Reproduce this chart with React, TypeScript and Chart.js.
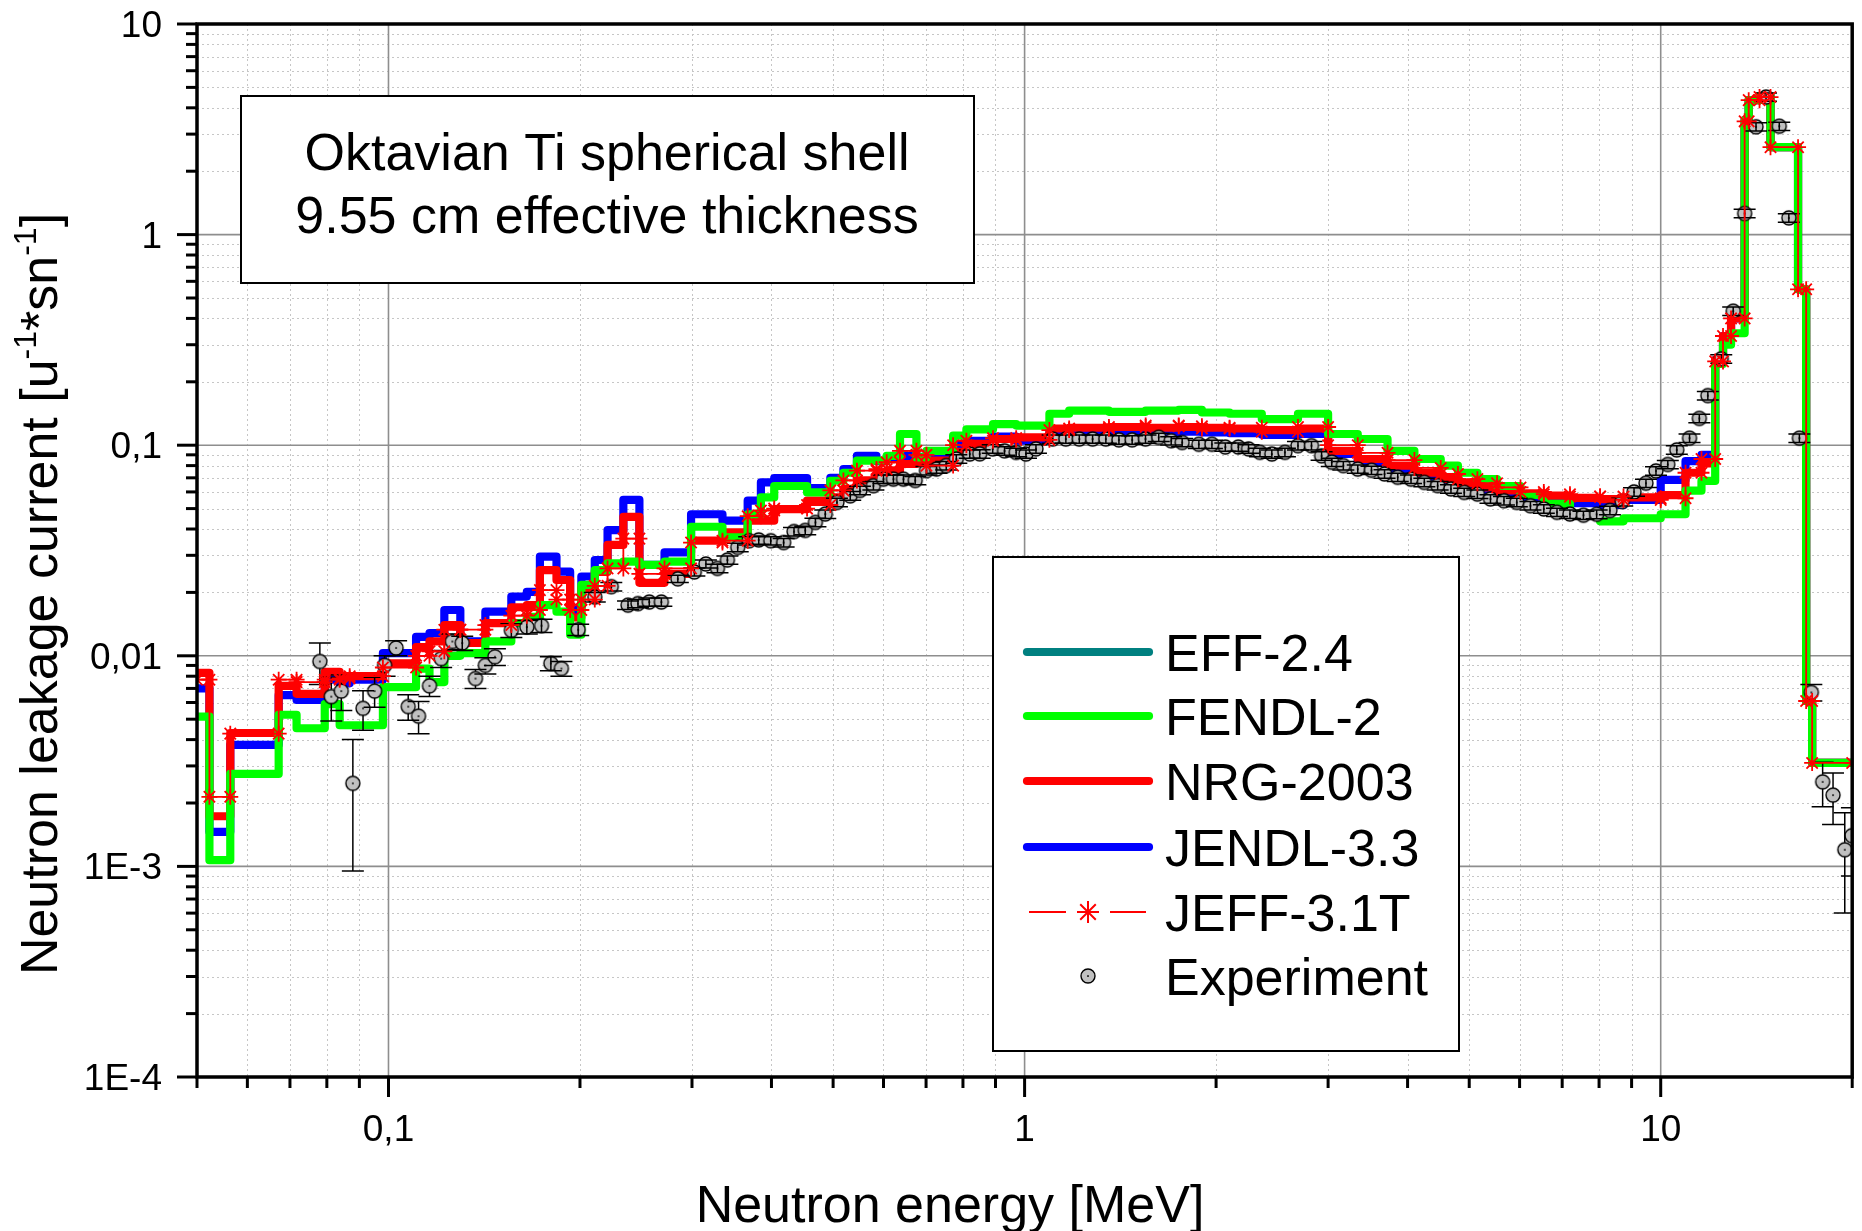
import React, { useEffect, useRef } from "react";
import { Chart, registerables } from "chart.js";

Chart.register(...registerables);

// ---------------- data ----------------
// group (bin) boundaries in MeV, 78 bins
const binEdgesMeV = [
  0.05, 0.0523, 0.0564, 0.0672, 0.0717, 0.0794, 0.0838, 0.0869, 0.098, 0.1105,
  0.116, 0.1224, 0.1297, 0.142, 0.156, 0.165, 0.173, 0.1837, 0.193, 0.201,
  0.211, 0.221, 0.234, 0.248, 0.2716, 0.299, 0.335, 0.367, 0.385, 0.404,
  0.455, 0.495, 0.519, 0.545, 0.585, 0.607, 0.637, 0.676, 0.701, 0.772,
  0.81, 0.892, 0.97, 1.094, 1.175, 1.357, 1.55, 1.747, 1.9, 2.1,
  2.36, 2.69, 3.0, 3.34, 3.72, 4.1, 4.51, 4.8, 5.15, 5.53,
  6.02, 6.55, 7.2, 8.03, 8.74, 10.0, 10.94, 11.59, 12.18, 12.53,
  12.9, 13.55, 13.75, 14.3, 14.88, 16.44, 16.93, 17.3, 20.0,
];

const eff24 = [
  0.0083, 0.00173, 0.0043, 0.0072, 0.0066, 0.0084, 0.008, 0.008, 0.0092, 0.011,
  0.0117, 0.014, 0.0115, 0.0143, 0.017, 0.0174, 0.0255, 0.0229, 0.0152, 0.021,
  0.025, 0.0336, 0.0457, 0.0222, 0.0245,
  0.0352, 0.0386, 0.0438, 0.0438, 0.0497, 0.0545, 0.0565, 0.062, 0.068, 0.072,
  0.0757, 0.0814, 0.083, 0.0844, 0.093, 0.101, 0.107, 0.109, 0.12, 0.121, 0.122,
  0.121, 0.122, 0.121, 0.12, 0.118, 0.12, 0.094, 0.086, 0.08, 0.074,
  0.069, 0.066, 0.063, 0.061, 0.059, 0.0576, 0.0562, 0.0555, 0.0565, 0.058,
  0.074, 0.082, 0.254, 0.33, 0.4, 3.5, 4.35, 4.55, 2.6, 0.55, 0.0061, 0.0031,
];

const fendl2 = [
  0.00514, 0.00107, 0.00275, 0.00525, 0.00453, 0.0059, 0.00468, 0.00468, 0.0071, 0.0087,
  0.0075, 0.01, 0.0103, 0.0117, 0.0143, 0.0153, 0.0174, 0.0162, 0.0126, 0.0217,
  0.0255, 0.0275, 0.028, 0.027, 0.028,
  0.041, 0.0365, 0.047, 0.0565, 0.064, 0.0597, 0.0678, 0.074, 0.0844, 0.0844,
  0.089, 0.113, 0.0875, 0.094, 0.111, 0.119, 0.126, 0.124, 0.141, 0.146, 0.144,
  0.146, 0.147, 0.143, 0.141, 0.133, 0.141, 0.113, 0.107, 0.094, 0.086,
  0.08, 0.074, 0.069, 0.064, 0.058, 0.0526, 0.047, 0.0435, 0.045, 0.047,
  0.0608, 0.0677, 0.243, 0.3, 0.34, 3.5, 4.35, 4.55, 2.6, 0.55, 0.0061, 0.0031,
];

const nrg2003 = [
  0.0083, 0.00173, 0.0043, 0.0072, 0.0066, 0.0084, 0.008, 0.008, 0.0092, 0.011,
  0.0117, 0.014, 0.0115, 0.0143, 0.017, 0.0174, 0.0255, 0.0229, 0.0152, 0.021,
  0.025, 0.0336, 0.0457, 0.0222, 0.0245,
  0.0352, 0.0386, 0.0438, 0.0438, 0.0497, 0.0545, 0.0565, 0.062, 0.068, 0.072,
  0.0757, 0.0814, 0.083, 0.0844, 0.093, 0.101, 0.107, 0.109, 0.12, 0.121, 0.122,
  0.121, 0.122, 0.121, 0.12, 0.118, 0.12, 0.094, 0.086, 0.08, 0.074,
  0.069, 0.066, 0.063, 0.061, 0.059, 0.0576, 0.0562, 0.0555, 0.0565, 0.058,
  0.074, 0.082, 0.254, 0.33, 0.4, 3.5, 4.35, 4.55, 2.6, 0.55, 0.0061, 0.0031,
];

const jendl33 = [
  0.007, 0.00146, 0.00378, 0.0065, 0.00617, 0.0077, 0.0074, 0.0077, 0.0103, 0.0123,
  0.0128, 0.0165, 0.0117, 0.0162, 0.0191, 0.0201, 0.0296, 0.0251, 0.0165, 0.0238,
  0.0285, 0.0395, 0.055, 0.027, 0.031,
  0.047, 0.0438, 0.0545, 0.0666, 0.0698, 0.0626, 0.07, 0.077, 0.089, 0.084,
  0.087, 0.089, 0.088, 0.087, 0.1, 0.105, 0.11, 0.105, 0.115, 0.115, 0.116,
  0.115, 0.116, 0.115, 0.114, 0.112, 0.113, 0.091, 0.083, 0.076, 0.071,
  0.067, 0.063, 0.06, 0.058, 0.056, 0.0545, 0.053, 0.052, 0.055, 0.0685,
  0.084, 0.09, 0.254, 0.33, 0.4, 3.5, 4.35, 4.55, 2.6, 0.55, 0.0061, 0.0031,
];

const jeff31t = [
  0.0077, 0.00214, 0.00427, 0.0077, 0.0075, 0.0077, 0.0078, 0.008, 0.0088, 0.01,
  0.0105, 0.0133, 0.0133, 0.014, 0.0155, 0.0165, 0.0205, 0.0185, 0.0165, 0.0185,
  0.0215, 0.026, 0.036, 0.0245, 0.026,
  0.0345, 0.0352, 0.046, 0.049, 0.05, 0.052, 0.061, 0.068, 0.0757, 0.077,
  0.083, 0.094, 0.09, 0.08, 0.1, 0.105, 0.108, 0.106, 0.118, 0.12, 0.122,
  0.124, 0.123, 0.12, 0.121, 0.116, 0.122, 0.1, 0.092, 0.085, 0.078,
  0.073, 0.069, 0.066, 0.063, 0.06, 0.0585, 0.057, 0.057, 0.055, 0.056,
  0.074, 0.086, 0.25, 0.33, 0.4, 3.45, 4.35, 4.5, 2.6, 0.55, 0.0061, 0.0031,
];

const expEnergy = [
  0.078, 0.0813, 0.0843, 0.0879, 0.0912, 0.0951, 0.0986, 0.1028, 0.1074, 0.1115,
  0.116, 0.121, 0.126, 0.1306, 0.137, 0.142, 0.147, 0.156, 0.165, 0.174,
  0.18, 0.187, 0.1987, 0.211, 0.224, 0.238, 0.2467, 0.257, 0.2685, 0.285,
  0.3026, 0.3155, 0.329, 0.341, 0.354, 0.369, 0.382, 0.399, 0.418, 0.434,
  0.452, 0.469, 0.486, 0.507, 0.532, 0.551, 0.5785, 0.6, 0.622, 0.645,
  0.673, 0.701, 0.727, 0.753, 0.781, 0.82, 0.85, 0.891, 0.93, 0.97,
  1.005, 1.042, 1.107, 1.161, 1.219, 1.279, 1.342, 1.407, 1.476, 1.549,
  1.625, 1.7, 1.769, 1.879, 1.97, 2.068, 2.168, 2.249, 2.344, 2.447,
  2.566, 2.69, 2.825, 2.93, 3.04, 3.17, 3.34, 3.51, 3.68, 3.86,
  4.05, 4.25, 4.46, 4.68, 4.91, 5.15, 5.4, 5.67, 5.94, 6.24,
  6.55, 6.87, 7.2, 7.56, 7.93, 8.32, 8.7, 9.08, 9.48, 9.83,
  10.26, 10.6, 11.1, 11.5, 11.86, 12.45, 13.0, 13.55, 14.12, 14.64,
  15.36, 15.9, 16.52, 17.25, 17.97, 18.66, 19.47, 19.98,
];

const expCurrent = [
  0.0094, 0.0064, 0.0068, 0.00248, 0.00563, 0.0068, 0.009, 0.0109, 0.00574, 0.00517,
  0.0072, 0.0097, 0.0117, 0.0115, 0.0078, 0.009, 0.0099, 0.0132, 0.0137, 0.0139,
  0.0092, 0.0087, 0.0133, 0.019, 0.0213, 0.0174, 0.0177, 0.018, 0.018, 0.0232,
  0.025, 0.0273, 0.026, 0.0285, 0.0327, 0.0352, 0.0355, 0.0352, 0.0345, 0.0389,
  0.0394, 0.043, 0.0471, 0.0535, 0.0575, 0.061, 0.0642, 0.069, 0.069, 0.069,
  0.068, 0.0757, 0.077, 0.08, 0.086, 0.0908, 0.091, 0.096, 0.094, 0.0924,
  0.0908, 0.096, 0.107, 0.107, 0.107, 0.107, 0.107, 0.106, 0.106, 0.107,
  0.109, 0.105, 0.103, 0.101, 0.101, 0.098, 0.098, 0.096, 0.0925, 0.0908,
  0.0925, 0.0995, 0.0995, 0.089, 0.083, 0.08, 0.077, 0.076, 0.073, 0.0704,
  0.069, 0.0666, 0.0643, 0.062, 0.0597, 0.0586, 0.0556, 0.0545, 0.0535, 0.0516,
  0.0498, 0.048, 0.0471, 0.0465, 0.047, 0.049, 0.054, 0.06, 0.066, 0.0755,
  0.081, 0.095, 0.108, 0.134, 0.172, 0.257, 0.433, 1.26, 3.25, 4.5,
  3.27, 1.2, 0.108, 0.0067, 0.00252, 0.00218, 0.0012, 0.0014,
];

const expUncertainty = [
  0.0021, 0.0015, 0.0013, 0.00153, 0.0012, 0.0011, 0.001, 0.0009, 0.0008, 0.0009,
  0.0008, 0.0009, 0.001, 0.0009, 0.0008, 0.0008, 0.0009, 0.001, 0.001, 0.001,
  0.0007, 0.0007, 0.0008, 0.001, 0.001, 0.0008, 0.0008, 0.0008, 0.0008, 0.0009,
  0.0011, 0.0012, 0.0012, 0.0013, 0.0015, 0.0016, 0.0016, 0.0016, 0.0016, 0.0018,
  0.0018, 0.002, 0.0022, 0.0025, 0.0027, 0.0028, 0.003, 0.0032, 0.0032, 0.0032,
  0.0031, 0.0035, 0.0035, 0.0037, 0.004, 0.0042, 0.0042, 0.0044, 0.0043, 0.0042,
  0.0042, 0.0044, 0.0049, 0.0049, 0.0049, 0.0049, 0.0049, 0.0049, 0.0049, 0.0049,
  0.005, 0.0048, 0.0047, 0.0046, 0.0046, 0.0045, 0.0045, 0.0044, 0.0043, 0.0042,
  0.0043, 0.0046, 0.0046, 0.0041, 0.0038, 0.0037, 0.0035, 0.0035, 0.0034, 0.0032,
  0.0032, 0.0031, 0.003, 0.0029, 0.0027, 0.0027, 0.0026, 0.0025, 0.0025, 0.0024,
  0.0023, 0.0022, 0.0022, 0.0021, 0.0022, 0.0023, 0.0025, 0.0028, 0.003, 0.0035,
  0.0037, 0.0044, 0.005, 0.0062, 0.0079, 0.0118, 0.02, 0.058, 0.15, 0.2,
  0.15, 0.055, 0.005, 0.0006, 0.0006, 0.0006, 0.0006, 0.0005,
];

const xTickValues = [0.1, 1, 10];
const xTickLabels = ["0,1", "1", "10"];
const yTickValues = [1e-4, 1e-3, 1e-2, 1e-1, 1, 10];
const yTickLabels = ["1E-4", "1E-3", "0,01", "0,1", "1", "10"];
const legendNames = ["EFF-2.4", "FENDL-2", "NRG-2003", "JENDL-3.3", "JEFF-3.1T", "Experiment"];
const titleLines = ["Oktavian Ti spherical shell", "9.55 cm effective thickness"];
const xAxisTitle = "Neutron energy [MeV]";

const X_MIN = 0.05;
const X_MAX = 20;
const Y_MIN = 1e-4;
const Y_MAX = 10;

// ---------------- style ----------------
const FONT = '"Liberation Sans", Arial, Helvetica, sans-serif';
const C_EFF = "#008080";
const C_FENDL = "#00ff00";
const C_NRG = "#ff0000";
const C_JENDL = "#0000ff";
const C_JEFF = "#ff0000";
const THICK = 8.2;
const MARKER_R = 7;

function stepPoints(edges: number[], values: number[]) {
  const pts = values.map((v, i) => ({ x: edges[i], y: v }));
  pts.push({ x: edges[values.length], y: values[values.length - 1] });
  return pts;
}

function cornerPoints(edges: number[], values: number[]) {
  const pts: { x: number; y: number }[] = [];
  values.forEach((v, i) => {
    pts.push({ x: edges[i], y: v });
    pts.push({ x: edges[i + 1], y: v });
  });
  return pts;
}

function minorValues(lo: number, hi: number) {
  const out: number[] = [];
  for (let e = Math.floor(Math.log10(lo)) - 1; e <= Math.ceil(Math.log10(hi)); e++) {
    for (let k = 2; k <= 9; k++) {
      const v = k * Math.pow(10, e);
      if (v >= lo * 0.999 && v <= hi * 1.001) out.push(v);
    }
  }
  return out;
}

function makeExpMarker() {
  const c = document.createElement("canvas");
  c.width = 18;
  c.height = 18;
  const g = c.getContext("2d")!;
  g.beginPath();
  g.arc(9, 9, MARKER_R, 0, Math.PI * 2);
  g.fillStyle = "#c0c0c0";
  g.fill();
  g.lineWidth = 1.4;
  g.strokeStyle = "#000";
  g.stroke();
  g.fillStyle = "#000";
  g.fillRect(8, 8.4, 2, 1.3);
  return c;
}

function drawStar(ctx: CanvasRenderingContext2D, cx: number, cy: number, r: number) {
  ctx.beginPath();
  for (let k = 0; k < 4; k++) {
    const a = (k * Math.PI) / 4;
    ctx.moveTo(cx - r * Math.cos(a), cy - r * Math.sin(a));
    ctx.lineTo(cx + r * Math.cos(a), cy + r * Math.sin(a));
  }
  ctx.stroke();
}

export default function App() {
  const canvasRef = useRef<HTMLCanvasElement | null>(null);

  useEffect(() => {
    const canvas = canvasRef.current;
    if (!canvas) return;
    const expMarker = makeExpMarker();

    const decor = {
      id: "decor",
      beforeDatasetsDraw(chart: any) {
        const { ctx, chartArea: a } = chart;
        const xs = chart.scales.x;
        const ys = chart.scales.y;
        ctx.save();
        ctx.lineWidth = 1;
        ctx.strokeStyle = "#c6c6c6";
        ctx.setLineDash([2, 3]);
        for (const v of minorValues(X_MIN, X_MAX)) {
          const p = Math.round(xs.getPixelForValue(v)) + 0.5;
          ctx.beginPath();
          ctx.moveTo(p, a.top);
          ctx.lineTo(p, a.bottom);
          ctx.stroke();
        }
        for (const v of minorValues(Y_MIN, Y_MAX)) {
          const p = Math.round(ys.getPixelForValue(v)) + 0.5;
          ctx.beginPath();
          ctx.moveTo(a.left, p);
          ctx.lineTo(a.right, p);
          ctx.stroke();
        }
        ctx.setLineDash([]);
        ctx.strokeStyle = "#8e8e8e";
        ctx.lineWidth = 1.6;
        for (const v of xTickValues) {
          const p = xs.getPixelForValue(v);
          ctx.beginPath();
          ctx.moveTo(p, a.top);
          ctx.lineTo(p, a.bottom);
          ctx.stroke();
        }
        for (const v of yTickValues) {
          const p = ys.getPixelForValue(v);
          ctx.beginPath();
          ctx.moveTo(a.left, p);
          ctx.lineTo(a.right, p);
          ctx.stroke();
        }
        ctx.restore();
      },
      afterDatasetDraw(chart: any, args: any) {
        const ds = chart.data.datasets[args.index];
        if (ds.label !== "Experiment") return;
        const { ctx, chartArea: a } = chart;
        const xs = chart.scales.x;
        const ys = chart.scales.y;
        ctx.save();
        ctx.beginPath();
        ctx.rect(a.left, a.top, a.right - a.left, a.bottom - a.top);
        ctx.clip();
        ctx.strokeStyle = "#000";
        ctx.lineWidth = 1.5;
        const cap = 11;
        expEnergy.forEach((e, i) => {
          const px = xs.getPixelForValue(e);
          const py = ys.getPixelForValue(expCurrent[i]);
          const hi = ys.getPixelForValue(expCurrent[i] + expUncertainty[i]);
          const lo = ys.getPixelForValue(Math.max(expCurrent[i] - expUncertainty[i], 1e-6));
          ctx.beginPath();
          if (py - hi > MARKER_R) {
            ctx.moveTo(px, hi);
            ctx.lineTo(px, py - MARKER_R);
            ctx.moveTo(px, py + MARKER_R);
            ctx.lineTo(px, lo);
          } else {
            ctx.moveTo(px, hi);
            ctx.lineTo(px, lo);
          }
          ctx.moveTo(px - cap, hi);
          ctx.lineTo(px + cap, hi);
          ctx.moveTo(px - cap, lo);
          ctx.lineTo(px + cap, lo);
          ctx.stroke();
        });
        ctx.restore();
      },
      afterDraw(chart: any) {
        const { ctx, chartArea: a } = chart;
        const xs = chart.scales.x;
        const ys = chart.scales.y;
        ctx.save();

        // frame
        ctx.strokeStyle = "#000";
        ctx.lineWidth = 3.5;
        ctx.lineCap = "square";
        ctx.beginPath();
        ctx.rect(a.left, a.top, a.right - a.left, a.bottom - a.top);
        ctx.stroke();

        // ticks
        ctx.lineCap = "butt";
        ctx.lineWidth = 3;
        const tick = (v: number, len: number, axis: "x" | "y") => {
          ctx.beginPath();
          if (axis === "x") {
            const p = xs.getPixelForValue(v);
            ctx.moveTo(p, a.bottom);
            ctx.lineTo(p, a.bottom + len);
          } else {
            const p = ys.getPixelForValue(v);
            ctx.moveTo(a.left, p);
            ctx.lineTo(a.left - len, p);
          }
          ctx.stroke();
        };
        xTickValues.forEach((v) => tick(v, 20, "x"));
        minorValues(X_MIN, X_MAX).forEach((v) => tick(v, 11, "x"));
        yTickValues.forEach((v) => tick(v, 20, "y"));
        minorValues(Y_MIN, Y_MAX).forEach((v) => tick(v, 11, "y"));

        // tick labels
        ctx.fillStyle = "#000";
        ctx.font = `37px ${FONT}`;
        ctx.textBaseline = "alphabetic";
        ctx.textAlign = "right";
        yTickValues.forEach((v, i) => {
          ctx.fillText(yTickLabels[i], a.left - 35, ys.getPixelForValue(v) + 13);
        });
        ctx.textAlign = "center";
        xTickValues.forEach((v, i) => {
          ctx.fillText(xTickLabels[i], xs.getPixelForValue(v), a.bottom + 64);
        });

        // axis titles
        ctx.font = `52px ${FONT}`;
        ctx.textAlign = "center";
        ctx.fillText(xAxisTitle, 950, 1222);

        const segs = [
          { t: "Neutron leakage current [u", sup: false },
          { t: "-1", sup: true },
          { t: "*sn", sup: false },
          { t: "-1", sup: true },
          { t: "]", sup: false },
        ];
        const fMain = `52px ${FONT}`;
        const fSup = `32px ${FONT}`;
        let total = 0;
        const widths = segs.map((s) => {
          ctx.font = s.sup ? fSup : fMain;
          const w = ctx.measureText(s.t).width;
          total += w;
          return w;
        });
        ctx.save();
        ctx.translate(57, 594);
        ctx.rotate(-Math.PI / 2);
        ctx.textAlign = "left";
        let u = -total / 2;
        segs.forEach((s, i) => {
          ctx.font = s.sup ? fSup : fMain;
          ctx.fillText(s.t, u, s.sup ? -21 : 0);
          u += widths[i];
        });
        ctx.restore();

        // title box
        ctx.fillStyle = "#fff";
        ctx.fillRect(241, 96, 733, 187);
        ctx.strokeStyle = "#000";
        ctx.lineWidth = 2;
        ctx.strokeRect(241, 96, 733, 187);
        ctx.fillStyle = "#000";
        ctx.font = `52px ${FONT}`;
        ctx.textAlign = "center";
        ctx.fillText(titleLines[0], 607, 170);
        ctx.fillText(titleLines[1], 607, 233);

        // legend box
        ctx.fillStyle = "#fff";
        ctx.fillRect(993, 557, 466, 494);
        ctx.strokeStyle = "#000";
        ctx.lineWidth = 2;
        ctx.strokeRect(993, 557, 466, 494);
        const rows = [652, 716, 781, 847, 912, 976];
        const lineColors = [C_EFF, C_FENDL, C_NRG, C_JENDL];
        ctx.lineCap = "round";
        lineColors.forEach((c, i) => {
          ctx.strokeStyle = c;
          ctx.lineWidth = THICK;
          ctx.beginPath();
          ctx.moveTo(1027, rows[i]);
          ctx.lineTo(1149, rows[i]);
          ctx.stroke();
        });
        ctx.lineCap = "butt";
        ctx.strokeStyle = C_JEFF;
        ctx.lineWidth = 1.8;
        ctx.beginPath();
        ctx.moveTo(1029, rows[4]);
        ctx.lineTo(1066, rows[4]);
        ctx.moveTo(1110, rows[4]);
        ctx.lineTo(1146, rows[4]);
        ctx.stroke();
        ctx.lineWidth = 2;
        drawStar(ctx, 1088, rows[4], 11);
        ctx.drawImage(expMarker, 1088 - expMarker.width / 2, rows[5] - expMarker.height / 2);
        ctx.fillStyle = "#000";
        ctx.font = `52px ${FONT}`;
        ctx.textAlign = "left";
        legendNames.forEach((n, i) => ctx.fillText(n, 1165, rows[i] + 19));

        ctx.restore();
      },
    };

    const stepDs = (label: string, values: number[], color: string, order: number, width: number) => ({
      label,
      data: stepPoints(binEdgesMeV, values),
      borderColor: color,
      backgroundColor: color,
      borderWidth: width,
      stepped: true,
      pointRadius: 0,
      borderJoinStyle: "round",
      borderCapStyle: "butt",
      fill: false,
      order,
    });

    const chart = new Chart(canvas, {
      type: "line",
      data: {
        datasets: [
          {
            label: "JEFF-3.1T",
            data: cornerPoints(binEdgesMeV, jeff31t),
            borderColor: C_JEFF,
            backgroundColor: C_JEFF,
            borderWidth: 1.8,
            pointStyle: "star",
            pointRadius: 8,
            pointBorderWidth: 1.8,
            pointBorderColor: C_JEFF,
            fill: false,
            order: 0,
          },
          {
            label: "Experiment",
            data: expEnergy.map((e, i) => ({ x: e, y: expCurrent[i] })),
            showLine: false,
            pointStyle: expMarker,
            pointRadius: MARKER_R,
            order: 1,
          },
          stepDs("FENDL-2", fendl2, C_FENDL, 2, THICK),
          stepDs("NRG-2003", nrg2003, C_NRG, 3, THICK),
          stepDs("JENDL-3.3", jendl33, C_JENDL, 4, THICK),
          stepDs("EFF-2.4", eff24, C_EFF, 5, THICK - 2),
        ] as any,
      },
      options: {
        responsive: false,
        animation: false,
        devicePixelRatio: 1,
        layout: { padding: { left: 197, top: 24, right: 3, bottom: 154 } },
        scales: {
          x: { type: "logarithmic", min: X_MIN, max: X_MAX, display: false },
          y: { type: "logarithmic", min: Y_MIN, max: Y_MAX, display: false },
        },
        plugins: {
          legend: { display: false },
          tooltip: { enabled: false },
          title: { display: false },
        },
        events: [],
      } as any,
      plugins: [decor as any],
    });

    return () => chart.destroy();
  }, []);

  return (
    <div style={{ position: "absolute", left: 0, top: 0, width: 1862, height: 1231, background: "#fff" }}>
      <canvas ref={canvasRef} width={1862} height={1231} style={{ display: "block" }} />
    </div>
  );
}
